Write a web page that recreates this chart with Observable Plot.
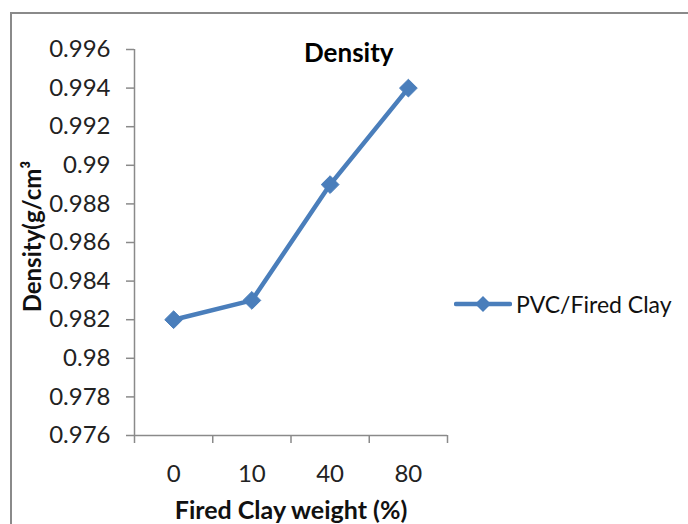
<!DOCTYPE html>
<html>
<head>
<meta charset="utf-8">
<script src="https://cdn.jsdelivr.net/npm/d3@7"></script>
<script src="https://cdn.jsdelivr.net/npm/@observablehq/plot@0.6"></script>
<style>
  html, body { margin: 0; padding: 0; background: #fff; }
  #wrap { position: relative; width: 688px; height: 524px; overflow: hidden; font-family: Lato, "Open Sans", sans-serif; }
  #frame { position: absolute; left: 10px; top: 12px; width: 760px; height: 600px; border: 2px solid #8a8a8a; box-sizing: border-box; }
  #chart { position: absolute; left: 0; top: 0; }
  #title { position: absolute; left: 304px; top: 36px; font-weight: bold; font-size: 26px; color: #000; }
  #legend { position: absolute; left: 454px; top: 290px; display: flex; align-items: center; font-size: 23px; color: #111; }
</style>
</head>
<body>
<div id="wrap">
  <div id="frame"></div>
  <div id="chart"></div>
  <div id="title">Density</div>
  <div id="legend"></div>
</div>
<script>
const categories = ["0", "10", "40", "80"];
const densities = [0.982, 0.983, 0.989, 0.994];
const yTicks = [0.976, 0.978, 0.98, 0.982, 0.984, 0.986, 0.988, 0.99, 0.992, 0.994, 0.996];
const seriesName = "PVC/Fired Clay";
const xTitle = "Fired Clay weight (%)";
const yTitle = "Density(g/cm³";

const color = "#4a7ebb";
const data = categories.map((c, i) => ({i, c, v: densities[i]}));
const boundaries = d3.range(-0.5, categories.length, 1);

const plot = Plot.plot({
  width: 688,
  height: 524,
  marginLeft: 134,
  marginRight: 241,
  marginTop: 49,
  marginBottom: 89,
  style: {fontFamily: "Lato, 'Open Sans', sans-serif", fontSize: "24px", color: "#222", overflow: "visible"},
  x: {domain: [-0.5, categories.length - 0.5]},
  y: {domain: [0.976, 0.996]},
  marks: [
    Plot.axisY({ticks: yTicks, tickSize: 8, tickPadding: 16, tickFormat: d => String(+d.toFixed(3)), stroke: "#8a8a8a", strokeWidth: 1.5, label: null, fill: "#222"}),
    Plot.ruleX([-0.5], {stroke: "#8a8a8a", strokeWidth: 1.5}),
    Plot.ruleY([0.976], {stroke: "#8a8a8a", strokeWidth: 1.5}),
    Plot.axisX({ticks: boundaries, tickSize: 8, tickFormat: () => "", stroke: "#8a8a8a", strokeWidth: 1.5, label: null}),
    Plot.axisX({ticks: d3.range(categories.length), tickSize: 0, tickPadding: 29, tickFormat: i => categories[i], label: null, fill: "#222"}),
    Plot.text([xTitle], {frameAnchor: "bottom", dy: 83, fontWeight: "bold", fontSize: 25, fill: "#111", lineAnchor: "bottom"}),
    Plot.text([yTitle], {frameAnchor: "left", dx: -101, dy: -6, rotate: -90, textAnchor: "middle", fontWeight: "bold", fontSize: 24, fill: "#111"}),
    Plot.line(data, {x: "i", y: "v", stroke: color, strokeWidth: 4.5}),
    Plot.dot(data, {x: "i", y: "v", symbol: "diamond2", r: 8, fill: color, stroke: color, strokeWidth: 1})
  ]
});
document.getElementById("chart").appendChild(plot);

const leg = document.getElementById("legend");
leg.innerHTML = `<svg width="58" height="20" style="margin-right:4px"><line x1="2" x2="56" y1="10" y2="10" stroke="${color}" stroke-width="4.5" stroke-linecap="round"/><path d="M29,2 L37,10 L29,18 L21,10 Z" fill="${color}"/></svg><span>${seriesName}</span>`;
</script>
</body>
</html>
